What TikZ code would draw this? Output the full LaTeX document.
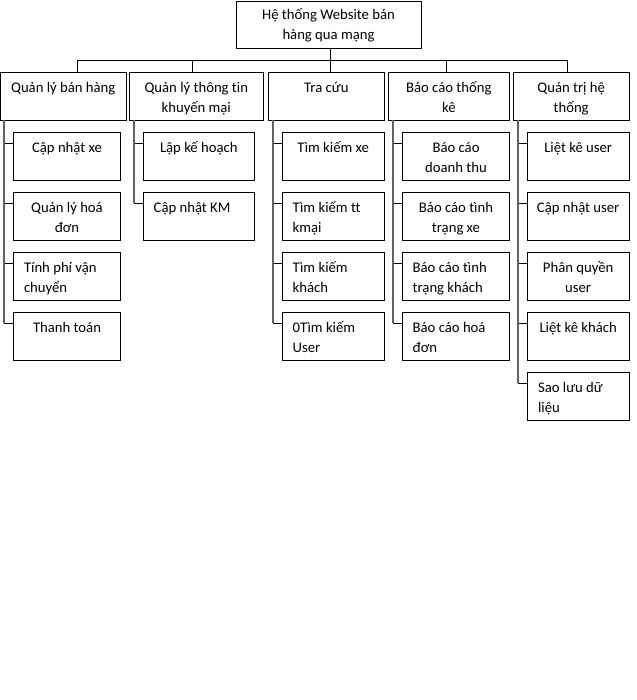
\documentclass[tikz,border=0pt]{standalone}
\usepackage{fontspec}
\setmainfont{Carlito}[Ligatures=CommonOff]
\newcommand\mkbox[8]{% name, x, y, W, H, pad, vspace, content
  \node[bx, inner xsep=#6pt] (#1) at (#2,-#3)
    {\parbox[c][#5pt][t]{\dimexpr #4pt-#6pt-#6pt\relax}{\vspace*{#7pt}#8\par}};}
\newcommand\CT[1]{\centering\strut #1}
\newcommand\LT[1]{\raggedright\strut #1}
\tikzset{
  bx/.style={draw=black, line width=0.9pt, inner ysep=0pt, outer sep=0pt,
    anchor=north west, font=\fontsize{14.7}{20}\selectfont},
  busline/.style={draw=black, line width=0.9pt},
  vline/.style={draw=black!62, line width=1.7pt},
  hline/.style={draw=black, line width=0.9pt},
}
\begin{document}
\begin{tikzpicture}[x=1pt,y=1pt]
\useasboundingbox[fill=white] (0,0) rectangle (636,-700);
% root
\mkbox{root}{236}{1}{185}{47}{2}{5}{\CT{Hệ thống Website bán\\hàng qua mạng}}
% level 1
\mkbox{A}{0.5}{72}{125.5}{48}{2}{6.7}{\CT{Quản lý bán hàng}}
\mkbox{B}{129.3}{72}{134}{48}{2}{6.7}{\CT{Quản lý thông tin\\khuyến mại}}
\mkbox{C}{268.7}{72}{115.3}{48}{2}{6.7}{\CT{Tra cứu}}
\mkbox{D}{388.3}{72}{121}{48}{2}{6.7}{\CT{Báo cáo thống\\kê}}
\mkbox{E}{513.3}{72}{115.7}{48}{2}{6.7}{\CT{Quản trị hệ\\thống}}
% column 1
\mkbox{a1}{13.3}{132.3}{107.4}{48}{2}{6}{\CT{Cập nhật xe}}
\mkbox{a2}{13.3}{192.3}{107.4}{48}{2}{6}{\CT{Quản lý hoá\\đơn}}
\mkbox{a3}{13.3}{252.3}{107.4}{48}{10.7}{6}{\LT{Tính phí vận\\chuyển}}
\mkbox{a4}{13.3}{312.3}{107.4}{48}{2}{6}{\CT{Thanh toán}}
% column 2
\mkbox{b1}{143.3}{132.3}{111}{48}{2}{6}{\CT{Lập kế hoạch}}
\mkbox{b2}{143.3}{192.3}{111}{48}{10.4}{6}{\LT{Cập nhật KM}}
% column 3
\mkbox{c1}{282}{132.3}{102.3}{48}{2}{6}{\CT{Tìm kiếm xe}}
\mkbox{c2}{282}{192.3}{102.3}{48}{10.7}{6}{\LT{Tìm kiếm tt\\kmại}}
\mkbox{c3}{282}{252.3}{102.3}{48}{10.7}{6}{\LT{Tìm kiếm\\khách}}
\mkbox{c4}{282}{312.3}{102.3}{48}{10.7}{6}{\LT{0Tìm kiếm\\User}}
% column 4
\mkbox{d1}{402.7}{132.3}{106.6}{48}{2}{6}{\CT{Báo cáo\\doanh thu}}
\mkbox{d2}{402.7}{192.3}{106.6}{48}{2}{6}{\CT{Báo cáo tình\\trạng xe}}
\mkbox{d3}{402.7}{252.3}{106.6}{48}{10}{6}{\LT{Báo cáo tình\\trạng khách}}
\mkbox{d4}{402.7}{312.3}{106.6}{48}{10}{6}{\LT{Báo cáo hoá\\đơn}}
% column 5
\mkbox{e1}{527.3}{132.3}{101.7}{48}{2}{6}{\CT{Liệt kê user}}
\mkbox{e2}{527.3}{192.3}{101.7}{48}{2}{6}{\CT{Cập nhật user}}
\mkbox{e3}{527.3}{252.3}{101.7}{48}{2}{6}{\CT{Phân quyền\\user}}
\mkbox{e4}{527.3}{312.3}{101.7}{48}{2}{6}{\CT{Liệt kê khách}}
\mkbox{e5}{527.3}{372.3}{101.7}{48}{10.8}{6}{\LT{Sao lưu dữ\\liệu}}
% bus
\coordinate (rootdrop) at ([xshift=2.2pt]root.south);
\coordinate (bus) at ([yshift=-12pt]rootdrop);
\coordinate (Adrop) at ([xshift=13.75pt]A.north);
\coordinate (Bdrop) at ([xshift=-4pt]B.north);
\coordinate (Ddrop) at ([xshift=-2.8pt]D.north);
\coordinate (Edrop) at ([xshift=-3.45pt]E.north);
\draw[busline] (rootdrop) -- (rootdrop |- C.north);
\draw[busline] (Adrop) |- (bus);
\draw[busline] (Edrop) |- (bus);
\draw[busline] (Bdrop) -- (Bdrop |- bus);
\draw[busline] (Ddrop) -- (Ddrop |- bus);
% child connectors
\foreach \P/\dx in {A/3.8, B/5, C/4.6, D/5, E/5}{
  \coordinate (\P v) at ([xshift=\dx pt]\P.south west);
}
\foreach \k/\P in {a1/A,a2/A,a3/A,a4/A,b1/B,b2/B,c1/C,c2/C,c3/C,c4/C,d1/D,d2/D,d3/D,d4/D,e1/E,e2/E,e3/E,e4/E,e5/E}{
  \coordinate (\k c) at ([yshift=-11pt]\k.north west);
  \draw[hline] (\k c) -- (\k c -| \P v);
}
\foreach \P/\last in {A/a4, B/b2, C/c4, D/d4, E/e5}{
  \draw[vline] (\P v) -- (\P v |- \last c);
}
\end{tikzpicture}
\end{document}
